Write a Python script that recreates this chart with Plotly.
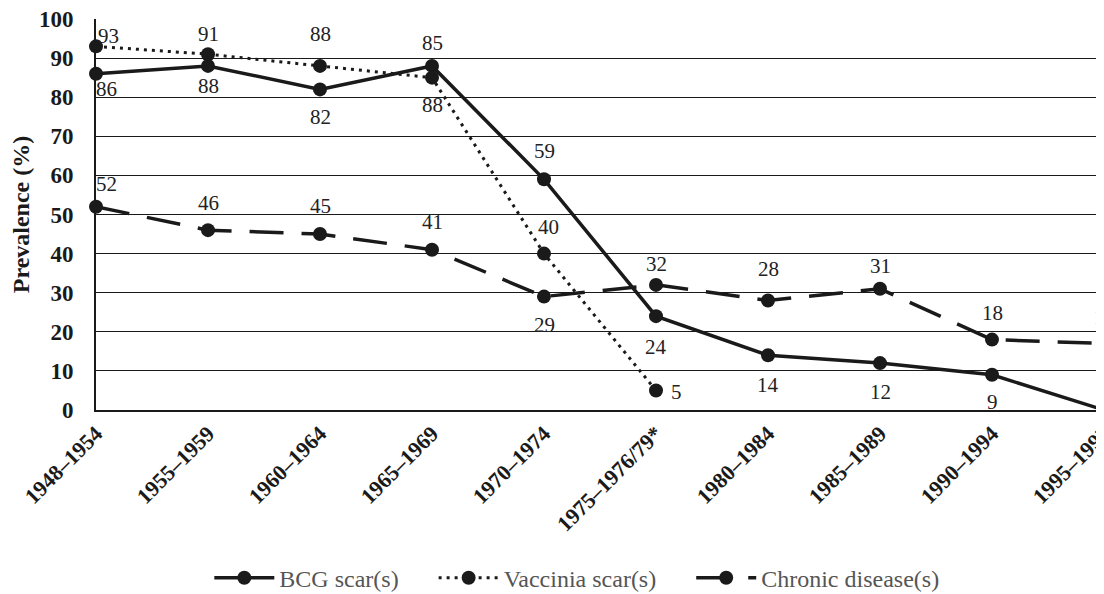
import plotly.graph_objects as go

categories = ["1948–1954", "1955–1959", "1960–1964", "1965–1969", "1970–1974",
              "1975–1976/79*", "1980–1984", "1985–1989", "1990–1994", "1995–1997"]
bcg = [86, 88, 82, 88, 59, 24, 14, 12, 9, 0]
vaccinia = [93, 91, 88, 85, 40, 5]
chronic = [52, 46, 45, 41, 29, 32, 28, 31, 18, 17]

# label offsets in pixels (dx, dy; dy positive = upward)
bcg_off = [(10, -15), (0, -20), (0, -28), (0, -39), (0, 28), (0, -31), (0, -30), (0, -29), (0, -27), (0, 25)]
vac_off = [(12, 10), (0, 20), (0, 32), (0, 35), (4, 27), (20, -2)]
chr_off = [(10, 23), (0, 27), (0, 28), (0, 28), (0, -28), (0, 21), (0, 32), (0, 23), (0, 27), (0, 27)]

FONT = "Liberation Serif, Times New Roman, serif"
INK = "#1a1a1a"
txtfont = dict(family=FONT, size=21, color="#222222")
GAP = "\u00a0" * 5

fig = go.Figure()
series = [
    ("BCG scar(s)" + GAP, categories, bcg, bcg_off, dict(color=INK, width=3.5)),
    ("Vaccinia scar(s)" + GAP, categories[:len(vaccinia)], vaccinia, vac_off,
     dict(color=INK, width=3, dash="3px,5px")),
    ("Chronic disease(s)", categories, chronic, chr_off, dict(color=INK, width=3.5, dash="34px,18px")),
]
for name, xs, ys, offs, line in series:
    fig.add_trace(go.Scatter(
        x=xs, y=ys, name=name, mode="lines+markers",
        line=line, marker=dict(size=14, color=INK), cliponaxis=False,
    ))
    for xv, yv, (dx, dy) in zip(xs, ys, offs):
        fig.add_annotation(x=xv, y=yv, text=str(yv), showarrow=False,
                           xshift=dx, yshift=dy, font=txtfont)

fig.update_layout(
    width=1096, height=586,
    margin=dict(l=88, r=0, t=11, b=184, autoexpand=False),
    paper_bgcolor="white", plot_bgcolor="white",
    font=dict(family=FONT, color=INK),
    showlegend=True,
    legend=dict(orientation="h", x=0.477, xanchor="center", y=-0.43, yanchor="middle",
                font=dict(family=FONT, size=24, color="#555555"), itemwidth=60,
                tracegroupgap=0),
    xaxis=dict(type="category", range=[0, 9], tickangle=-45, showgrid=False, automargin=False,
               showline=True, linecolor=INK, linewidth=2, ticks="", ticklabeloverflow="allow",
               tickfont=dict(family=FONT, size=22, color=INK, weight="bold")),
    yaxis=dict(range=[0, 100], dtick=10, showgrid=True, gridcolor=INK, gridwidth=1,
               showline=True, linecolor=INK, linewidth=2, ticks="", zeroline=False,
               automargin=False, ticklabeloverflow="allow", ticklabelstandoff=16,
               tickfont=dict(family=FONT, size=23, color=INK, weight="bold"),
               title=dict(text="Prevalence (%)", standoff=6,
                          font=dict(family=FONT, size=24, color=INK, weight="bold"))),
)
fig.write_html("out.html")
